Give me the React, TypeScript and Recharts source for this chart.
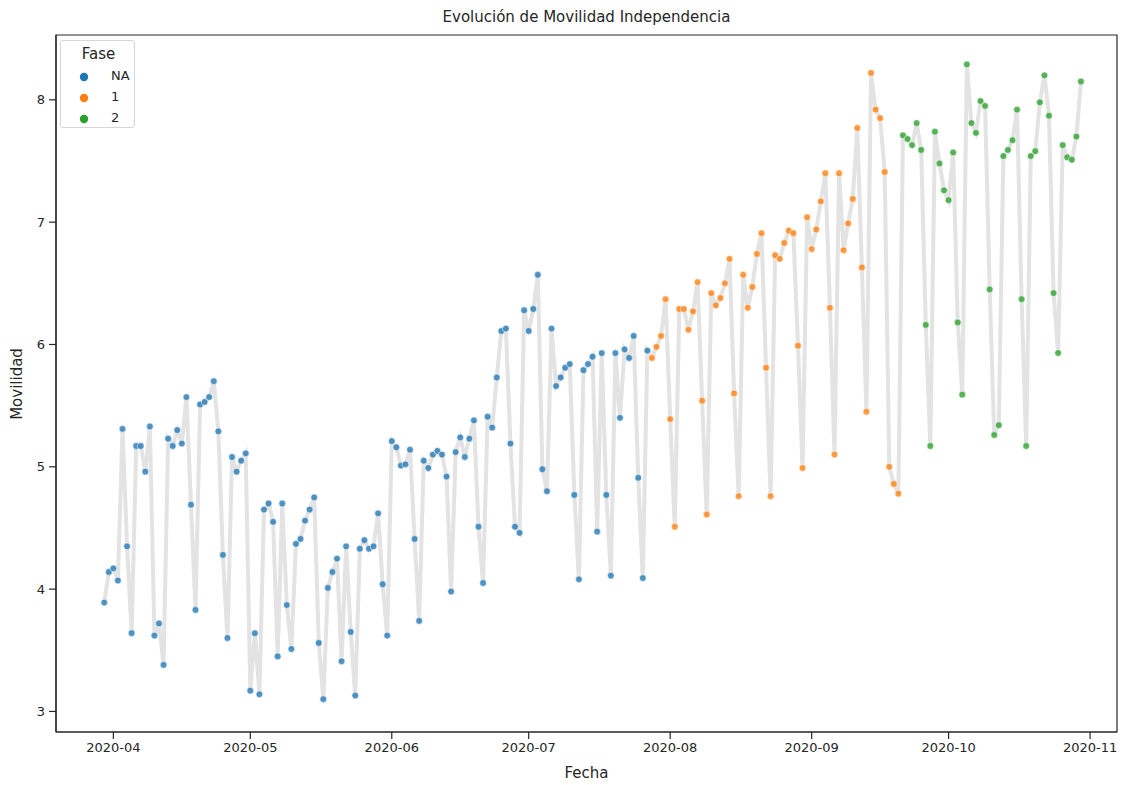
import { ComposedChart, Line, Scatter, XAxis, YAxis, ReferenceArea, Label } from "recharts";

const DAY = 86400000;
const START_DATE = Date.UTC(2020, 2, 30);

// Movilidad diaria por fase (días consecutivos desde START_DATE)
const movilidadNA = [
  3.89, 4.14,
  4.17, 4.07, 5.31, 4.35, 3.64, 5.17, 5.17, 4.96, 5.33, 3.62,
  3.72, 3.38, 5.23, 5.17, 5.3, 5.19, 5.57, 4.69, 3.83, 5.51,
  5.53, 5.57, 5.7, 5.29, 4.28, 3.6, 5.08, 4.96, 5.05, 5.11,
  3.17, 3.64, 3.14, 4.65, 4.7, 4.55, 3.45, 4.7, 3.87, 3.51,
  4.37, 4.41, 4.56, 4.65, 4.75, 3.56, 3.1, 4.01, 4.14, 4.25,
  3.41, 4.35, 3.65, 3.13, 4.33, 4.4, 4.33, 4.35, 4.62, 4.04, 3.62,
  5.21, 5.16, 5.01, 5.02, 5.14, 4.41, 3.74, 5.05, 4.99, 5.1,
  5.13, 5.1, 4.92, 3.98, 5.12, 5.24, 5.08, 5.23, 5.38, 4.51,
  4.05, 5.41, 5.32, 5.73, 6.11, 6.13, 5.19, 4.51, 4.46, 6.28,
  6.11, 6.29, 6.57, 4.98, 4.8, 6.13, 5.66, 5.73, 5.81, 5.84,
  4.77, 4.08, 5.79, 5.84, 5.9, 4.47, 5.93, 4.77, 4.11, 5.93,
  5.4, 5.96, 5.89, 6.07, 4.91, 4.09, 5.95,
];

const movilidadFase1 = [
  5.89, 5.98, 6.07, 6.37,
  5.39, 4.51, 6.29, 6.29, 6.12, 6.27, 6.51, 5.54, 4.61, 6.42,
  6.32, 6.38, 6.5, 6.7, 5.6, 4.76, 6.57, 6.3, 6.47, 6.74,
  6.91, 5.81, 4.76, 6.73, 6.7, 6.83, 6.93, 6.91, 5.99, 4.99, 7.04,
  6.78, 6.94, 7.17, 7.4, 6.3, 5.1, 7.4, 6.77, 6.99, 7.19,
  7.77, 6.63, 5.45, 8.22, 7.92, 7.85, 7.41, 5.0, 4.86, 4.78,
];

const movilidadFase2 = [
  7.71, 7.68, 7.63, 7.81, 7.59, 6.16, 5.17, 7.74, 7.48, 7.26,
  7.18, 7.57, 6.18, 5.59, 8.29, 7.81, 7.73, 7.99, 7.95, 6.45,
  5.26, 5.34, 7.54, 7.59, 7.67, 7.92, 6.37, 5.17, 7.54, 7.58,
  7.98, 8.2, 7.87, 6.42, 5.93, 7.63, 7.53, 7.51, 7.7, 8.15,
];

const MONTH_TICKS = [3, 4, 5, 6, 7, 8, 9, 10].map((m) => Date.UTC(2020, m, 1));
const Y_TICKS = [3, 4, 5, 6, 7, 8];

const APR_1 = Date.UTC(2020, 3, 1);
const X_DOMAIN = [APR_1 - 12.57 * DAY, APR_1 + 219.9 * DAY];
const Y_DOMAIN = [2.832, 8.53];

const FASES = [
  { name: "NA", color: "#1f77b4", values: movilidadNA },
  { name: "1", color: "#ff7f0e", values: movilidadFase1 },
  { name: "2", color: "#2ca02c", values: movilidadFase2 },
];

let dayOffset = 0;
const faseData = FASES.map((f) => {
  const rows = f.values.map((v, i) => ({
    fecha: START_DATE + (dayOffset + i) * DAY,
    movilidad: v,
  }));
  dayOffset += f.values.length;
  return rows;
});
const allData = faseData.flat();

const FONT = "'DejaVu Sans', sans-serif";
const INK = "#262626";

const fmtMonth = (t: number) => {
  const d = new Date(t);
  return `${d.getUTCFullYear()}-${String(d.getUTCMonth() + 1).padStart(2, "0")}`;
};

const dotShape = (color: string) => (p: any) => (
  <circle cx={p.cx} cy={p.cy} r={3.4} fill={color} fillOpacity={0.78} stroke="#fff" strokeWidth={0.6} />
);

const FaseLegend = () => (
  <div
    style={{
      position: "absolute", left: 60, top: 40, width: 75, height: 88,
      border: "1px solid #d6d6d6", borderRadius: 3, background: "rgba(255,255,255,0.85)",
      fontFamily: FONT, color: INK, boxSizing: "border-box",
    }}
  >
    <div style={{ position: "absolute", left: 0, width: 75, top: 4, textAlign: "center", fontSize: 15 }}>Fase</div>
    {FASES.map((f, i) => (
      <div key={f.name} style={{ position: "absolute", left: 0, top: 27 + i * 21, height: 18, width: 75 }}>
        <svg width={12} height={12} style={{ position: "absolute", left: 17, top: 3 }}>
          <circle cx={6} cy={6} r={4.2} fill={f.color} />
        </svg>
        <span style={{ position: "absolute", left: 50, top: 0, fontSize: 13 }}>{f.name}</span>
      </div>
    ))}
  </div>
);

export default function App() {
  return (
    <div style={{ position: "absolute", left: 0, top: 0, width: 1132, height: 785, background: "#fff" }}>
      <div
        style={{
          position: "absolute", left: 56, width: 1061, top: 8, textAlign: "center",
          fontFamily: FONT, fontSize: 15, color: INK,
        }}
      >
        Evolución de Movilidad Independencia
      </div>
      <ComposedChart
        width={1132}
        height={785}
        data={allData}
        margin={{ top: 35, right: 15, left: 0, bottom: 0 }}
        style={{ fontFamily: FONT }}
      >
        <XAxis
          dataKey="fecha"
          type="number"
          domain={X_DOMAIN}
          ticks={MONTH_TICKS}
          tickFormatter={fmtMonth}
          interval={0}
          allowDataOverflow
          height={53}
          tickSize={7}
          tickMargin={4}
          stroke={INK}
          strokeWidth={1.2}
          tick={{ fill: INK, fontSize: 13 }}
        >
          <Label
            content={() => (
              <text x={586.5} y={778} textAnchor="middle" fontSize={15} fill={INK} fontFamily={FONT}>
                Fecha
              </text>
            )}
          />
        </XAxis>
        <YAxis
          type="number"
          domain={Y_DOMAIN}
          ticks={Y_TICKS}
          interval={0}
          allowDataOverflow
          width={56}
          tickSize={7}
          tickMargin={4}
          stroke={INK}
          strokeWidth={1.2}
          tick={{ fill: INK, fontSize: 13 }}
        >
          <Label
            content={() => (
              <text
                x={22}
                y={384}
                transform="rotate(-90 22 384)"
                textAnchor="middle"
                fontSize={15}
                fill={INK}
                fontFamily={FONT}
              >
                Movilidad
              </text>
            )}
          />
        </YAxis>
        <ReferenceArea
          x1={X_DOMAIN[0]}
          x2={X_DOMAIN[1]}
          y1={Y_DOMAIN[0]}
          y2={Y_DOMAIN[1]}
          fill="none"
          stroke={INK}
          strokeWidth={1.2}
          ifOverflow="visible"
        />
        <Line
          dataKey="movilidad"
          stroke="#e3e3e3"
          strokeWidth={4}
          dot={false}
          activeDot={false}
          isAnimationActive={false}
        />
        {FASES.map((f, i) => (
          <Scatter
            key={f.name}
            name={f.name}
            data={faseData[i]}
            dataKey="movilidad"
            fill={f.color}
            shape={dotShape(f.color)}
            isAnimationActive={false}
          />
        ))}
      </ComposedChart>
      <FaseLegend />
    </div>
  );
}
